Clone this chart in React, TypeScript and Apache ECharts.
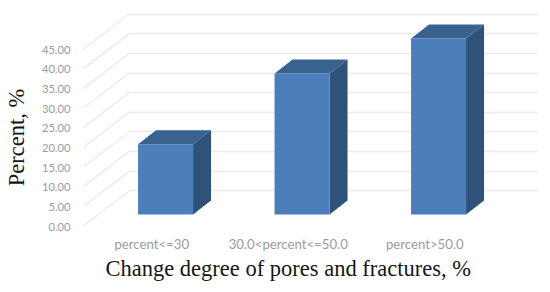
import React, { useEffect, useRef } from "react";
import * as echarts from "echarts";

const categories = ["percent<=30", "30.0<percent<=50.0", "percent>50.0"];
const percentValues = [17.9, 35.9, 44.8];
const yTicks = [0, 5, 10, 15, 20, 25, 30, 35, 40, 45];
const xTitle = "Change degree of pores and fractures, %";
const yTitle = "Percent, %";

const FLOOR_DX = 45.6;
const FLOOR_DY = -35;
const BAR_OFFSET_X = 13.8;
const BAR_OFFSET_Y = -11.4;
const BAR_W = 55;
const DEPTH_X = 18;
const DEPTH_Y = -14;

export default function App() {
  const ref = useRef<HTMLDivElement>(null);
  useEffect(() => {
    document.body.style.margin = "0";
    const chart = echarts.init(ref.current!, null, { renderer: "svg" });
    const tickLabel = { color: "#9c9c9c", fontFamily: "Lato" };
    const serifName = { color: "#151515", fontFamily: "Liberation Serif", fontSize: 22.5 };
    chart.setOption({
      animation: false,
      backgroundColor: "#ffffff",
      grid: [
        { left: 128.5, width: 409.5, top: 14, height: 176.5, outerBoundsMode: "none" },
        { left: 83.5, width: 409.5, top: 49, height: 177, outerBoundsMode: "none" },
      ],
      xAxis: [
        { type: "category", gridIndex: 0, data: categories, axisLine: { show: false }, axisTick: { show: false }, axisLabel: { show: false }, splitLine: { show: false } },
        {
          type: "category", gridIndex: 1, data: categories,
          axisLine: { show: false }, axisTick: { show: false }, splitLine: { show: false },
          axisLabel: { ...tickLabel, fontSize: 13.2, margin: 11, interval: 0 },
          name: xTitle, nameLocation: "middle", nameGap: 31, nameTextStyle: serifName,
        },
      ],
      yAxis: [
        {
          type: "value", gridIndex: 0, min: 0, max: 45, interval: 5,
          axisLine: { show: false }, axisTick: { show: false }, axisLabel: { show: false },
          splitLine: { show: true, lineStyle: { color: "#ebebeb", width: 1.4 } },
        },
        {
          type: "value", gridIndex: 1, min: 0, max: 45, interval: 5,
          axisLine: { show: false }, axisTick: { show: false }, splitLine: { show: false },
          axisLabel: { ...tickLabel, fontSize: 11.2, margin: 13, formatter: (v: number) => v.toFixed(2) },
          name: yTitle, nameLocation: "middle", nameGap: 56, nameRotate: 90, nameTextStyle: serifName,
        },
      ],
      series: [
        {
          type: "custom", xAxisIndex: 1, yAxisIndex: 1, clip: false, silent: true,
          data: yTicks.map((t) => [0, t]),
          renderItem: (_p: any, api: any) => {
            const c = api.coord([0, api.value(1)]);
            const x0 = c[0] - api.size([1, 0])[0] / 2;
            return {
              type: "line",
              shape: { x1: x0, y1: c[1], x2: x0 + FLOOR_DX, y2: c[1] + FLOOR_DY },
              style: { stroke: "#ebebeb", lineWidth: 1.4 },
            };
          },
        },
        {
          type: "custom", xAxisIndex: 1, yAxisIndex: 1, clip: false, silent: true,
          data: percentValues.map((v, i) => [i, v]),
          renderItem: (_p: any, api: any) => {
            const top = api.coord([api.value(0), api.value(1)]);
            const bottom = api.coord([api.value(0), 0]);
            const l = top[0] + BAR_OFFSET_X - BAR_W / 2;
            const r = l + BAR_W;
            const t = top[1] + BAR_OFFSET_Y;
            const b = bottom[1] + BAR_OFFSET_Y;
            return {
              type: "group",
              children: [
                { type: "polygon", shape: { points: [[r, t], [r + DEPTH_X, t + DEPTH_Y], [r + DEPTH_X, b + DEPTH_Y], [r, b]] }, style: { fill: "#2f5279" } },
                { type: "polygon", shape: { points: [[l, t], [l + DEPTH_X, t + DEPTH_Y], [r + DEPTH_X, t + DEPTH_Y], [r, t]] }, style: { fill: "#3a6291" } },
                { type: "rect", shape: { x: l, y: t, width: BAR_W, height: b - t }, style: { fill: "#4b7ebb" } },
              ],
            };
          },
        },
      ],
    });
    return () => chart.dispose();
  }, []);
  return <div ref={ref} style={{ width: 550, height: 292 }} />;
}
